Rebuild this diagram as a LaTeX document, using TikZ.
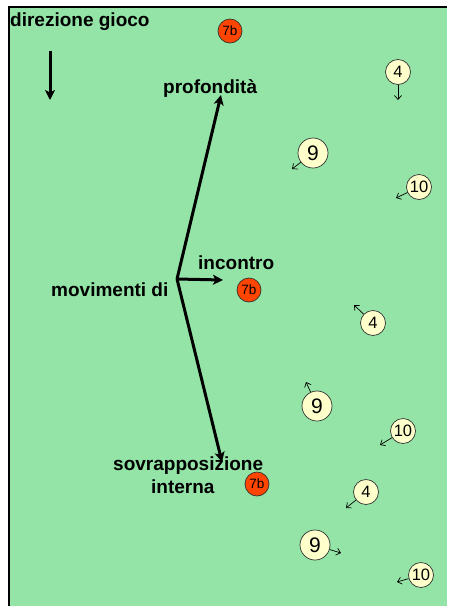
\documentclass[tikz,border=0pt]{standalone}
\usepackage{fontspec}
\setmainfont{Liberation Sans}
\usetikzlibrary{arrows.meta}
\definecolor{pitch}{RGB}{147,228,166}
\definecolor{mate}{RGB}{255,69,0}
\definecolor{rival}{RGB}{255,255,204}
\tikzset{
  label/.style={font=\bfseries\fontsize{19}{23}\selectfont, inner sep=0pt, anchor=base west},
  mover/.style={line width=3pt, -{Stealth[length=10pt,width=10pt,inset=2.5pt]}},
  seven/.style={circle, fill=mate, draw=black!80, line width=0.7pt, minimum size=24pt,
    inner sep=0pt, font=\fontsize{13.5}{13.5}\selectfont},
  opp/.style={circle, fill=rival, draw=black!80, line width=0.7pt, minimum size=25pt,
    inner sep=0pt, font=\fontsize{16.5}{16.5}\selectfont},
  oppbig/.style={opp, minimum size=30pt, font=\fontsize{21}{21}\selectfont},
  run/.style={line width=0.7pt, -{Straight Barb[length=4pt,width=7pt]}},
}
\begin{document}
\begin{tikzpicture}[x=1pt,y=-1pt]
\useasboundingbox (0,0) rectangle (448,606);
% pitch with its top and left edges
\fill[pitch] (9,7) rectangle (447,606);
\draw[line width=2pt] (9,606) -- (9,7) -- (447,7);

% direction of play
\node[label] (dir) at (10,26) {direzione gioco};
\coordinate (dirA) at (50,51);
\coordinate (dirB) at (50,100);
\draw[mover] (dirA) -- (dirB);

% movement options of the 7b
\coordinate (v) at (177,279);
\coordinate (tp) at (221,95);
\coordinate (ti) at (223,280);
\coordinate (ts) at (222,462);
\draw[mover] (v) -- (tp);
\draw[mover] (v) -- (ti);
\draw[mover] (v) -- (ts);
\node[label] (lmov) at (51,296) {movimenti di};
\node[label] (lpro) at (163,93) {profondità};
\node[label] (linc) at (198,269) {incontro};
\node[label] (lsov) at (113,470) {sovrapposizione};
\node[label] (lint) at (151,493) {interna};

% attacking player positions
\node[seven] (s1) at (230,31) {7b};
\node[seven] (s2) at (249,290) {7b};
\node[seven] (s3) at (257,484) {7b};

% defenders and their runs
\node[opp] (a4) at (398,72) {4};
\node[oppbig] (a9) at (313,153) {9};
\node[opp] (a10) at (419,187) {10};
\coordinate (ra4) at (398,100);
\coordinate (ra9) at (292,169);
\coordinate (ra10) at (396,198);
\draw[run] (a4) -- (ra4);
\draw[run] (a9) -- (ra9);
\draw[run] (a10) -- (ra10);

\node[opp] (b4) at (373,323) {4};
\node[oppbig] (b9) at (317,406) {9};
\node[opp] (b10) at (403,431) {10};
\coordinate (rb4) at (354,305);
\coordinate (rb9) at (306,382);
\coordinate (rb10) at (380,445);
\draw[run] (b4) -- (rb4);
\draw[run] (b9) -- (rb9);
\draw[run] (b10) -- (rb10);

\node[opp] (c4) at (366,492) {4};
\node[oppbig] (c9) at (315,545) {9};
\node[opp] (c10) at (421,575) {10};
\coordinate (rc4) at (346,508);
\coordinate (rc9) at (341,553);
\coordinate (rc10) at (397,582);
\draw[run] (c4) -- (rc4);
\draw[run] (c9) -- (rc9);
\draw[run] (c10) -- (rc10);
\end{tikzpicture}
\end{document}
